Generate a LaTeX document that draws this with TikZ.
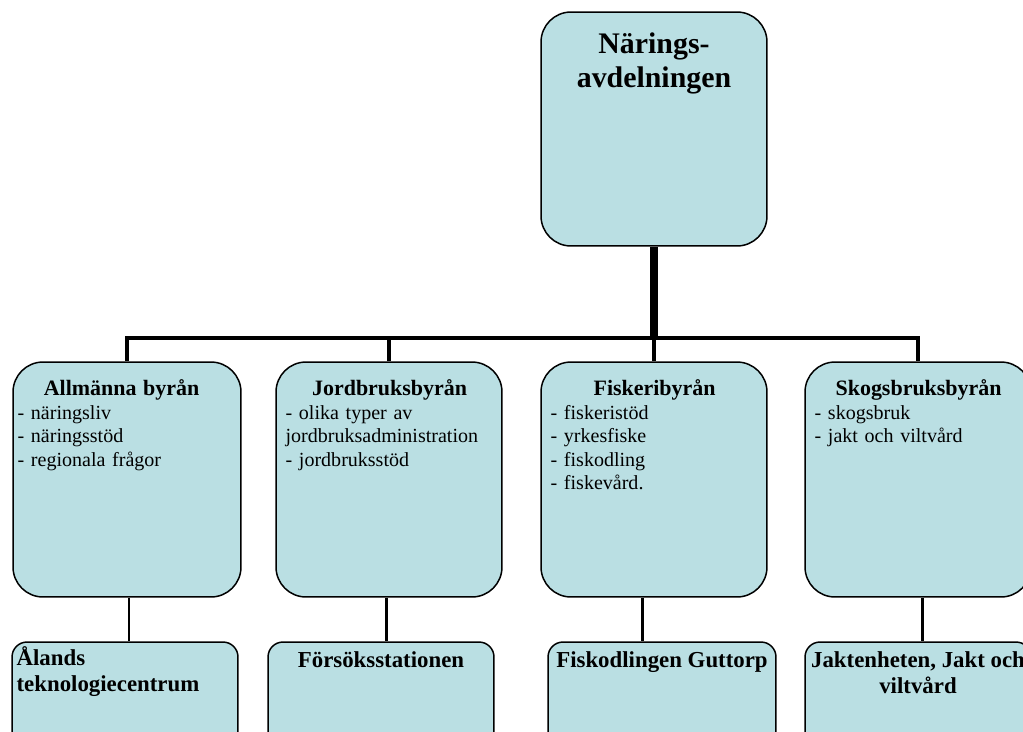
\documentclass[tikz,border=0pt]{standalone}
\usepackage{fontspec}
\setmainfont{Liberation Serif}
\usetikzlibrary{calc}
\definecolor{boxblue}{RGB}{186,223,227}
\newcommand{\officetitle}{\fontsize{12.5}{13.4}\selectfont\bfseries}

\begin{document}
\begin{tikzpicture}[x=0.02cm,y=-0.02cm,
  unit/.style={draw=black,line width=0.85pt,fill=boxblue,inner sep=0,rounded corners=0.6cm},
  headbox/.style={unit,minimum width=4.52cm,minimum height=4.68cm},
  officebox/.style={unit,minimum width=4.52cm,minimum height=4.7cm},
  unitbox/.style={unit,minimum width=4.52cm,minimum height=2.6cm,rounded corners=0.3cm},
  headtext/.style={anchor=north,align=center,inner sep=0,font=\fontsize{17}{19.4}\selectfont\bfseries},
  officetext/.style={anchor=north west,text width=4.16cm,align=left,inner sep=0,font=\fontsize{11.4}{13.4}\selectfont},
  unittext/.style={anchor=north,align=center,inner sep=0,font=\fontsize{13}{14.8}\selectfont\bfseries},
  trunk/.style={line width=4pt},
  busline/.style={line width=2.8pt},
  twig/.style={line width=1.7pt}]
\useasboundingbox (0,0) rectangle (1023,731);
\clip (0,0) rectangle (1023,731);

\node[headbox] (1) at (654,129) {};
\node[headtext] (1t) at ($(1.north)+(0,21)$) {Närings-\\avdelningen};

\node[officebox,minimum width=4.56cm] (2) at (127,479.5) {};
\node[officebox] (3) at (389,479.5) {};
\node[officebox] (4) at (654,479.5) {};
\node[officebox] (5) at (918,479.5) {};

\node[officetext] (2t) at ($(2.north west)+(5,18)$)
{{\centering\officetitle Allmänna byrån\par}- näringsliv\\- näringsstöd\\- regionala frågor};
\node[officetext] (3t) at ($(3.north west)+(10,18)$)
{{\centering\officetitle Jordbruksbyrån\par}- olika typer av\\jordbruksadministration\\- jordbruksstöd};
\node[officetext] (4t) at ($(4.north west)+(10,18)$)
{{\centering\officetitle Fiskeribyrån\par}- fiskeristöd\\- yrkesfiske\\- fiskodling\\- fiskevård.};
\node[officetext] (5t) at ($(5.north west)+(10,18)$)
{{\centering\officetitle Skogsbruksbyrån\par}- skogsbruk\\- jakt och viltvård};

\node[unitbox] (6) at (125,707) {};
\node[unitbox] (7) at (381,707) {};
\node[unitbox,minimum width=4.56cm] (8) at (662,707) {};
\node[unitbox] (9) at (918,707) {};

\node[unittext,anchor=north west,align=left] (6t) at ($(6.north west)+(5,5)$) {Ålands\\teknologiecentrum};
\node[unittext] (7t) at ($(7.north)+(0,10)$) {Försöksstationen};
\node[unittext] (8t) at ($(8.north)+(0,10)$) {Fiskodlingen Guttorp};
\node[unittext] (9t) at ($(9.north)+(0,10)$) {Jaktenheten, Jakt och\\viltvård};

\coordinate (rail) at (654,338);
\draw[trunk] (1.south) -- (1.south |- rail);
\draw[busline] (2.north) |- (rail) -| (5.north);
\draw[busline] (3.north) -- (3.north |- rail);
\draw[busline] (4.north) -- (4.north |- rail);

\draw[twig] ($(2.south)+(2,0)$) -- ($(6.north)+(4,0)$);
\draw[twig] ($(3.south)+(-3,0)$) -- ($(7.north)+(5,0)$);
\draw[twig] ($(4.south)+(-12,0)$) -- ($(8.north)+(-20,0)$);
\draw[twig] ($(5.south)+(4,0)$) -- ($(9.north)+(4,0)$);
\end{tikzpicture}
\end{document}
